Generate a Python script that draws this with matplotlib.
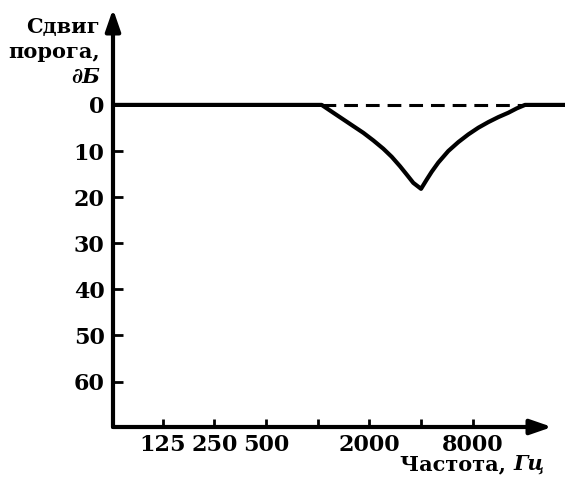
import matplotlib
matplotlib.use("Agg")
import matplotlib.pyplot as plt

# ---- data ----
freq_hz = [64, 1055, 1233, 1410, 1612, 1844, 2108, 2411, 2699, 3017, 3300, 3605, 4000,
           4315, 4615, 5043, 5767, 6594, 7541, 8623, 9862, 11276, 12896, 14430, 16130, 27600]
shift_db = [0, 0, 1.7, 3.15, 4.6, 6.05, 7.7, 9.5, 11.25, 13.3, 15.1, 16.9, 18.2,
            16.2, 14.5, 12.5, 10.0, 8.07, 6.4, 4.95, 3.73, 2.65, 1.7, 0.76, 0, 0]
dash_freq = [1055, 16130]
dash_db = [0, 0]
x_ticks = [125, 250, 500, 1000, 2000, 4000, 8000]
x_tick_labels = ["125", "250", "500", "", "2000", "", "8000"]
y_ticks = [0, 10, 20, 30, 40, 50, 60]
y_tick_labels = ["0", "10", "20", "30", "40", "50", "60"]

W, H = 565, 479
fig = plt.figure(figsize=(W / 100, H / 100), dpi=100)
ax = fig.add_axes([113 / W, (H - 427) / H, (W - 113) / W, (427 - 9) / H])

FONT = "DejaVu Serif"
FS = 16
LFS = 15

ax.plot(freq_hz, shift_db, color="black", lw=3.0, solid_joinstyle="round",
        solid_capstyle="butt", clip_on=True)
ax.plot(dash_freq, dash_db, color="black", lw=2.2, dashes=(4.5, 2.6))

ax.set_xscale("log", base=2)
px_per_oct = 51.67
x1000 = 317.7
ax.set_xlim(1000 * 2 ** ((113 - x1000) / px_per_oct), 1000 * 2 ** ((565 - x1000) / px_per_oct))
ax.set_ylim(69.85, -20.8)

ax.set_xticks(x_ticks)
ax.set_xticklabels(x_tick_labels)
ax.minorticks_off()
ax.set_yticks(y_ticks)
ax.set_yticklabels(y_tick_labels)
for lab in ax.get_xticklabels() + ax.get_yticklabels():
    lab.set_fontfamily(FONT)
    lab.set_fontweight("bold")
    lab.set_fontsize(FS)
ax.tick_params(axis="x", direction="in", length=6, width=2, pad=5)
ax.tick_params(axis="y", direction="in", length=7, width=2, pad=6)

for s in ax.spines.values():
    s.set_visible(False)

# axes with arrows
ax.annotate("", xy=(0, 1), xytext=(0, 0), xycoords="axes fraction",
            arrowprops=dict(arrowstyle="-|>,head_length=1.3,head_width=0.45",
                            lw=3, color="black", shrinkA=0, shrinkB=0), annotation_clip=False)
ax.annotate("", xy=((552 - 113) / (W - 113), 0), xytext=(0, 0), xycoords="axes fraction",
            arrowprops=dict(arrowstyle="-|>,head_length=1.3,head_width=0.45",
                            lw=3, color="black", shrinkA=0, shrinkB=0), annotation_clip=False)

# y label
fig.text(100 / W, 1 - 33 / H, "Сдвиг", ha="right", va="baseline",
         fontfamily=FONT, fontweight="bold", fontsize=LFS)
fig.text(100 / W, 1 - 58 / H, "порога,", ha="right", va="baseline",
         fontfamily=FONT, fontweight="bold", fontsize=LFS)
fig.text(100 / W, 1 - 83 / H, "∂Б", ha="right", va="baseline",
         fontfamily=FONT, fontweight="bold", fontstyle="italic", fontsize=LFS)

# x label
t1 = fig.text(400 / W, 1 - 470 / H, "Частота, ", ha="left", va="baseline",
              fontfamily=FONT, fontweight="bold", fontsize=LFS)
fig.canvas.draw()
bb = t1.get_window_extent()
fig.text(bb.x1 / W, 1 - 470 / H, "Гц", ha="left", va="baseline",
         fontfamily=FONT, fontweight="bold", fontstyle="italic", fontsize=LFS)

fig.savefig("out.png", dpi=100)
